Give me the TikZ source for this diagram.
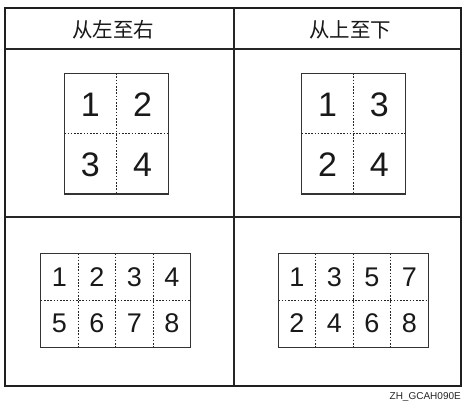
\documentclass[tikz,border=0pt]{standalone}
\usepackage{fontspec}
\setmainfont{Liberation Sans}
\newfontfamily\cjk{Noto Sans CJK SC}
\begin{document}
\begin{tikzpicture}[x=1pt,y=-1pt,
  frameline/.style={line width=2.2pt,draw=black!88},
  gridline/.style={line width=1.1pt,draw=black!85},
  pagebox/.style={line width=1.2pt,draw=black!80},
  foldline/.style={line width=1pt,draw=black!85,dash pattern=on 1.6pt off 1.6pt},
  head/.style={font=\cjk\fontsize{20.5}{24}\selectfont,text=black!90,inner sep=0pt},
  bignum/.style={font=\fontsize{34}{38}\selectfont,text=black!90,inner sep=0pt},
  smallnum/.style={font=\fontsize{27}{30}\selectfont,text=black!90,inner sep=0pt},
  tag/.style={font=\fontsize{10}{11}\selectfont,text=black!85,inner sep=0pt,anchor=east}]
\useasboundingbox (0,0) rectangle (463,406);
\fill[white] (0,0) rectangle (463,406);
% table grid
\draw[gridline] (5,49) -- (461,49);
\draw[gridline] (5,217) -- (461,217);
\draw[gridline] (234,8) -- (234,386);
\draw[frameline] (5,8) rectangle (461,386);
% headers
\node[head] (h1) at (113,29.5) {从左至右};
\node[head] (h2) at (350,29.5) {从上至下};
% top-left 2x2
\draw[foldline] (116.3,73.3) -- (116.3,194);
\draw[foldline] (64.3,133.7) -- (168.3,133.7);
\draw[pagebox] (64.3,73.3) rectangle (168.3,194);
\node[bignum] (a1) at (90.3,105) {1};
\node[bignum] (a2) at (142.6,105) {2};
\node[bignum] (a3) at (90.3,165) {3};
\node[bignum] (a4) at (142.6,165) {4};
% top-right 2x2
\draw[foldline] (353.5,73.3) -- (353.5,194);
\draw[foldline] (301.7,133.7) -- (405.3,133.7);
\draw[pagebox] (301.7,73.3) rectangle (405.3,194);
\node[bignum] (b1) at (327.6,105) {1};
\node[bignum] (b3) at (379.4,105) {3};
\node[bignum] (b2) at (327.6,165) {2};
\node[bignum] (b4) at (379.4,165) {4};
% bottom-left 4x2
\foreach \i in {1,2,3} \draw[foldline] ({40.7+37.5*\i},253.3) -- ({40.7+37.5*\i},347.5);
\draw[foldline] (40.7,300.3) -- (190.7,300.3);
\draw[pagebox] (40.7,253.3) rectangle (190.7,347.5);
\foreach \n [count=\k from 0] in {1,2,3,4}
  \node[smallnum] (c\n) at ({59.5+37.5*\k},277) {\n};
\foreach \n [count=\k from 0] in {5,6,7,8}
  \node[smallnum] (c\n) at ({59.5+37.5*\k},323.5) {\n};
% bottom-right 4x2
\foreach \i in {1,2,3} \draw[foldline] ({278.3+37.5*\i},253.3) -- ({278.3+37.5*\i},347.5);
\draw[foldline] (278.3,300.3) -- (428.3,300.3);
\draw[pagebox] (278.3,253.3) rectangle (428.3,347.5);
\foreach \n [count=\k from 0] in {1,3,5,7}
  \node[smallnum] (d\n) at ({297+37.5*\k},277) {\n};
\foreach \n [count=\k from 0] in {2,4,6,8}
  \node[smallnum] (d\n) at ({297+37.5*\k},323.5) {\n};
% tag
\node[tag] (code) at (461,397.5) {ZH\_GCAH090E};
\end{tikzpicture}
\end{document}
